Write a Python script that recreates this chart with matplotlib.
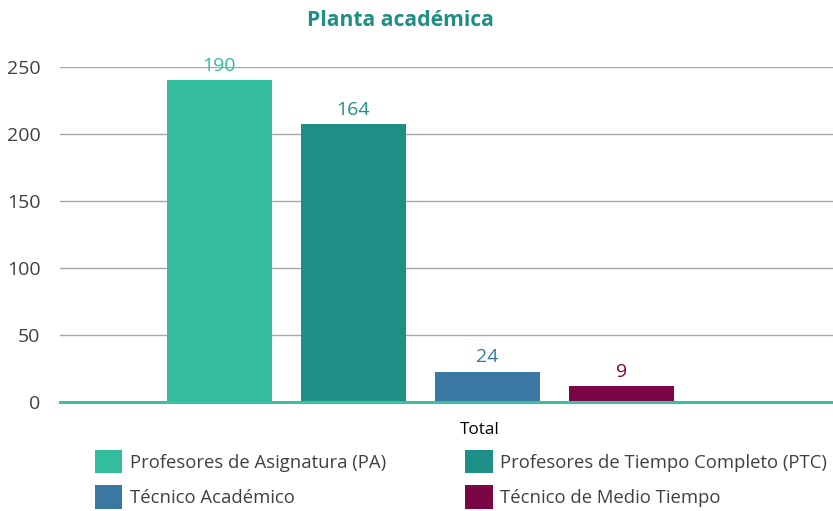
import matplotlib.pyplot as plt
from matplotlib.patches import Patch

# Planta académica - bar heights as drawn, labels as printed
categories = ['Profesores de Asignatura (PA)', 'Profesores de Tiempo Completo (PTC)',
              'Técnico Académico', 'Técnico de Medio Tiempo']
heights = [240, 207.5, 22.5, 12]
labels = ['190', '164', '24', '9']
colors = ['#33bd9e', '#1e8f87', '#3a78a3', '#7a0645']
yticks = [0, 50, 100, 150, 200, 250]

plt.rcParams['font.family'] = ['Open Sans', 'DejaVu Sans']

fig = plt.figure(figsize=(8.33, 5.11), dpi=100)
ax = fig.add_axes([60 / 833, 1 - 402 / 511, 773 / 833, 335 / 511])

x = list(range(len(categories)))
bars = ax.bar(x, heights, width=0.784, color=colors, zorder=2)
for b, lab, c in zip(bars, labels, colors):
    ax.text(b.get_x() + b.get_width() / 2, b.get_height() + 4, lab,
            ha='center', va='bottom', color=c, fontsize=14)

ax.set_xlim(-1.19, 4.58)
ax.set_ylim(0, 250)
ax.set_yticks(yticks)
ax.set_xticks([])
ax.grid(axis='y', color='#a6a6a6', linewidth=1, zorder=0)
ax.axhline(0, color='#3dbfa0', linewidth=2.2, zorder=3, clip_on=False)
for s in ax.spines.values():
    s.set_visible(False)
ax.tick_params(axis='y', length=0, pad=14, labelsize=14, labelcolor='#404040')

fig.text(480 / 833, 1 - 430 / 511, 'Total', ha='center', va='center',
         fontsize=12.3, color='#000000')
fig.suptitle('Planta académica', x=400 / 833, y=1 - 20 / 511, va='center',
             fontsize=15.2, fontweight='bold', color='#1e8f83')

handles = [Patch(facecolor=c, label=n) for c, n in zip(colors, categories)]
# reorder so rows read PA | PTC, TA | TMT
order = [0, 2, 1, 3]
fig.legend([handles[i] for i in order], [categories[i] for i in order],
           loc='upper left', bbox_to_anchor=(78 / 833, 1 - 433 / 511), ncol=2,
           frameon=False, fontsize=13.3, handlelength=1.5, handleheight=1.6,
           handletextpad=0.4, columnspacing=4.3, labelspacing=0.62,
           labelcolor='#404040')

fig.savefig('out.png', dpi=100)
